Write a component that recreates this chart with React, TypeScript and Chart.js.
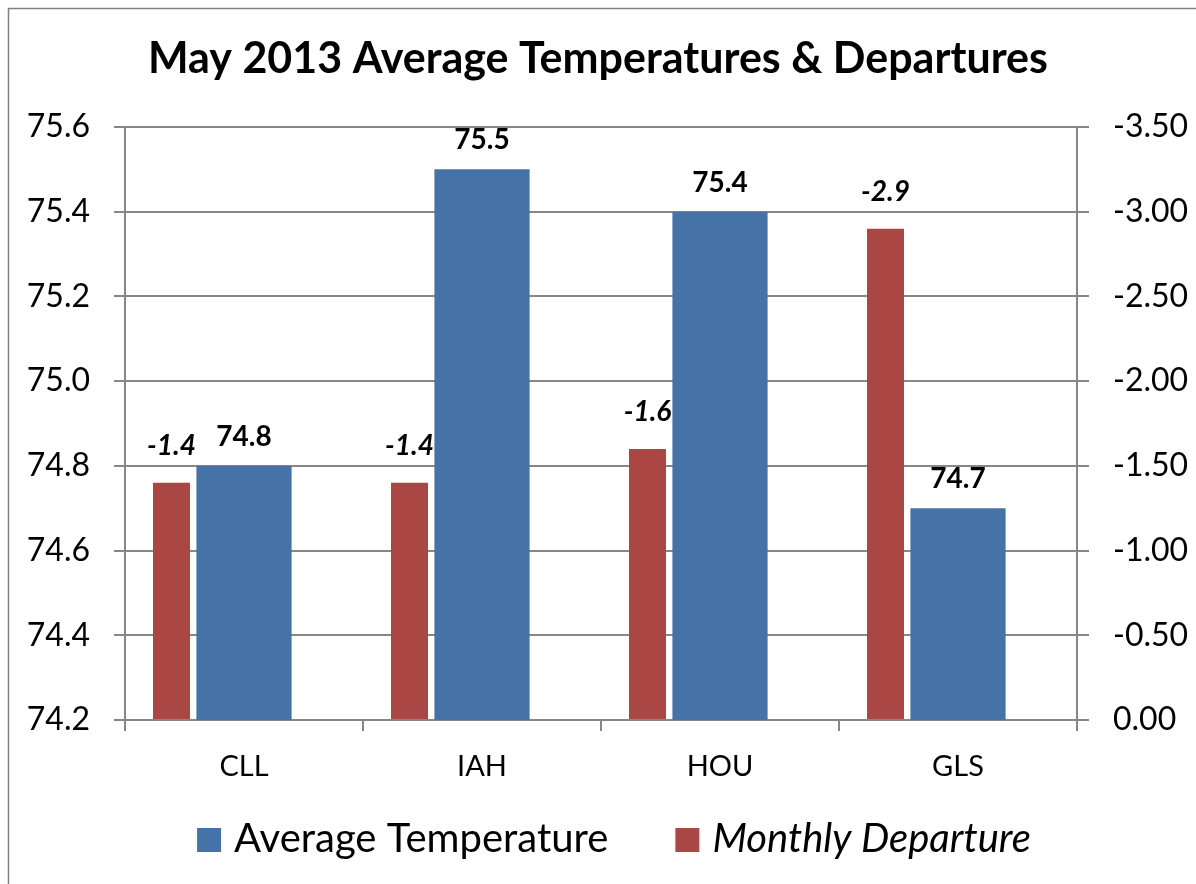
import React, { useEffect, useRef } from "react";
import { Chart, registerables } from "chart.js";

Chart.register(...registerables);

const stations: string[] = ["CLL", "IAH", "HOU", "GLS"];
const avgTemps: number[] = [74.8, 75.5, 75.4, 74.7];
const departures: number[] = [-1.4, -1.4, -1.6, -2.9];
const spacer: (number | null)[] = [null, null, null, null];
const seriesNames: string[] = ["Average Temperature", "Monthly Departure"];
const titleText = "May 2013 Average Temperatures & Departures";

const BLUE = "#4572A7";
const RED = "#AA4643";
const GRID = "#878787";
const FONT = "Lato, 'Open Sans', sans-serif";

const framePlugin = {
  id: "frame",
  beforeDraw(chart: any) {
    const { ctx, width, height } = chart;
    ctx.save();
    ctx.fillStyle = "#ffffff";
    ctx.fillRect(0, 0, width, height);
    ctx.strokeStyle = "#808080";
    ctx.lineWidth = 1.5;
    ctx.beginPath();
    ctx.moveTo(8.5, height);
    ctx.lineTo(8.5, 8.5);
    ctx.lineTo(width, 8.5);
    ctx.stroke();
    ctx.restore();
  },
};

const labelPlugin = {
  id: "barLabels",
  afterDatasetsDraw(chart: any) {
    const { ctx } = chart;
    ctx.save();
    ctx.fillStyle = "#000";
    ctx.textAlign = "center";
    ctx.textBaseline = "alphabetic";
    chart.data.datasets.forEach((ds: any, di: number) => {
      if (!ds.showLabels) return;
      const meta = chart.getDatasetMeta(di);
      ctx.font = ds.labelFont;
      meta.data.forEach((el: any, i: number) => {
        const v = ds.data[i];
        if (v === null || v === undefined) return;
        ctx.fillText(v.toFixed(1), el.x, el.y - ds.labelOffset);
      });
    });
    ctx.restore();
  },
};

const legendPlugin = {
  id: "customLegend",
  afterDraw(chart: any) {
    const { ctx, chartArea } = chart;
    const box = 24;
    const gap = 13;
    const spacing = 67;
    const items = [
      { text: seriesNames[0], color: BLUE, font: `40px ${FONT}` },
      { text: seriesNames[1], color: RED, font: `italic 40px ${FONT}` },
    ];
    ctx.save();
    const widths = items.map((it) => {
      ctx.font = it.font;
      return ctx.measureText(it.text).width;
    });
    const total = box + gap + widths[0] + spacing + box + gap + widths[1];
    const cx = (chartArea.left + chartArea.right) / 2 + 13;
    let x = cx - total / 2;
    const baseline = 852;
    items.forEach((it, i) => {
      ctx.fillStyle = it.color;
      ctx.fillRect(x, baseline - box, box, box);
      x += box + gap;
      ctx.font = it.font;
      ctx.fillStyle = "#000";
      ctx.textAlign = "left";
      ctx.textBaseline = "alphabetic";
      ctx.fillText(it.text, x, baseline);
      x += widths[i] + spacing;
    });
    ctx.restore();
  },
};

export default function App() {
  const ref = useRef<HTMLCanvasElement | null>(null);

  useEffect(() => {
    if (!ref.current) return;
    const chart = new Chart(ref.current, {
      type: "bar",
      data: {
        labels: stations,
        datasets: [
          {
            label: seriesNames[0],
            data: avgTemps,
            yAxisID: "y",
            backgroundColor: BLUE,
            grouped: false,
            categoryPercentage: 1,
            barPercentage: 0.4,
            showLabels: true,
            labelFont: `bold 28px ${FONT}`,
            labelOffset: 20,
          } as any,
          {
            label: seriesNames[1],
            data: departures,
            yAxisID: "y1",
            backgroundColor: RED,
            categoryPercentage: 1.2185,
            barPercentage: 0.255,
            showLabels: true,
            labelFont: `italic bold 28px ${FONT}`,
            labelOffset: 28,
          } as any,
          {
            label: "",
            data: spacer,
            yAxisID: "y1",
            backgroundColor: "rgba(0,0,0,0)",
            categoryPercentage: 1.2185,
            barPercentage: 0.255,
          } as any,
        ],
      },
      options: {
        animation: false,
        responsive: true,
        maintainAspectRatio: false,
        layout: { padding: { left: 0, right: 0, top: 0, bottom: 84 } },
        plugins: {
          legend: { display: false },
          tooltip: { enabled: false },
          title: {
            display: true,
            text: titleText,
            color: "#000",
            font: { family: FONT, size: 43, weight: "bold" },
            padding: { top: 33, bottom: 42.4 },
          },
        },
        scales: {
          x: {
            offset: true,
            grid: {
              display: true,
              offset: true,
              drawOnChartArea: false,
              drawTicks: true,
              tickLength: 11,
              color: GRID,
              lineWidth: 2,
            },
            border: { display: true, color: GRID, width: 2 },
            ticks: {
              color: "#000",
              font: { family: FONT, size: 29 },
              padding: 18,
              maxRotation: 0,
            },
            afterFit: (s: any) => {
              s.height = 80;
            },
          },
          y: {
            position: "left",
            min: 74.2,
            max: 75.6,
            grid: {
              color: GRID,
              lineWidth: 2,
              drawTicks: true,
              tickLength: 11,
            },
            border: { display: true, color: GRID, width: 2 },
            ticks: {
              stepSize: 0.2,
              color: "#000",
              font: { family: FONT, size: 32 },
              padding: 24,
              callback: (v: any) => Number(v).toFixed(1),
            },
            afterFit: (s: any) => {
              s.width = 125;
            },
          },
          y1: {
            position: "right",
            min: -3.5,
            max: 0,
            reverse: true,
            grid: {
              drawOnChartArea: false,
              color: GRID,
              lineWidth: 2,
              drawTicks: true,
              tickLength: 12,
            },
            border: { display: true, color: GRID, width: 2 },
            ticks: {
              stepSize: 0.5,
              color: "#000",
              font: { family: FONT, size: 32 },
              padding: 24,
              callback: (v: any) => (Math.abs(Number(v)) < 1e-9 ? "0.00" : Number(v).toFixed(2)),
            },
            afterFit: (s: any) => {
              s.width = 119;
            },
          },
        },
      } as any,
      plugins: [framePlugin, labelPlugin, legendPlugin],
    });
    return () => chart.destroy();
  }, []);

  return (
    <div
      style={{
        position: "fixed",
        left: 0,
        top: 0,
        width: 1196,
        height: 884,
        background: "#fff",
      }}
    >
      <canvas ref={ref} />
    </div>
  );
}
